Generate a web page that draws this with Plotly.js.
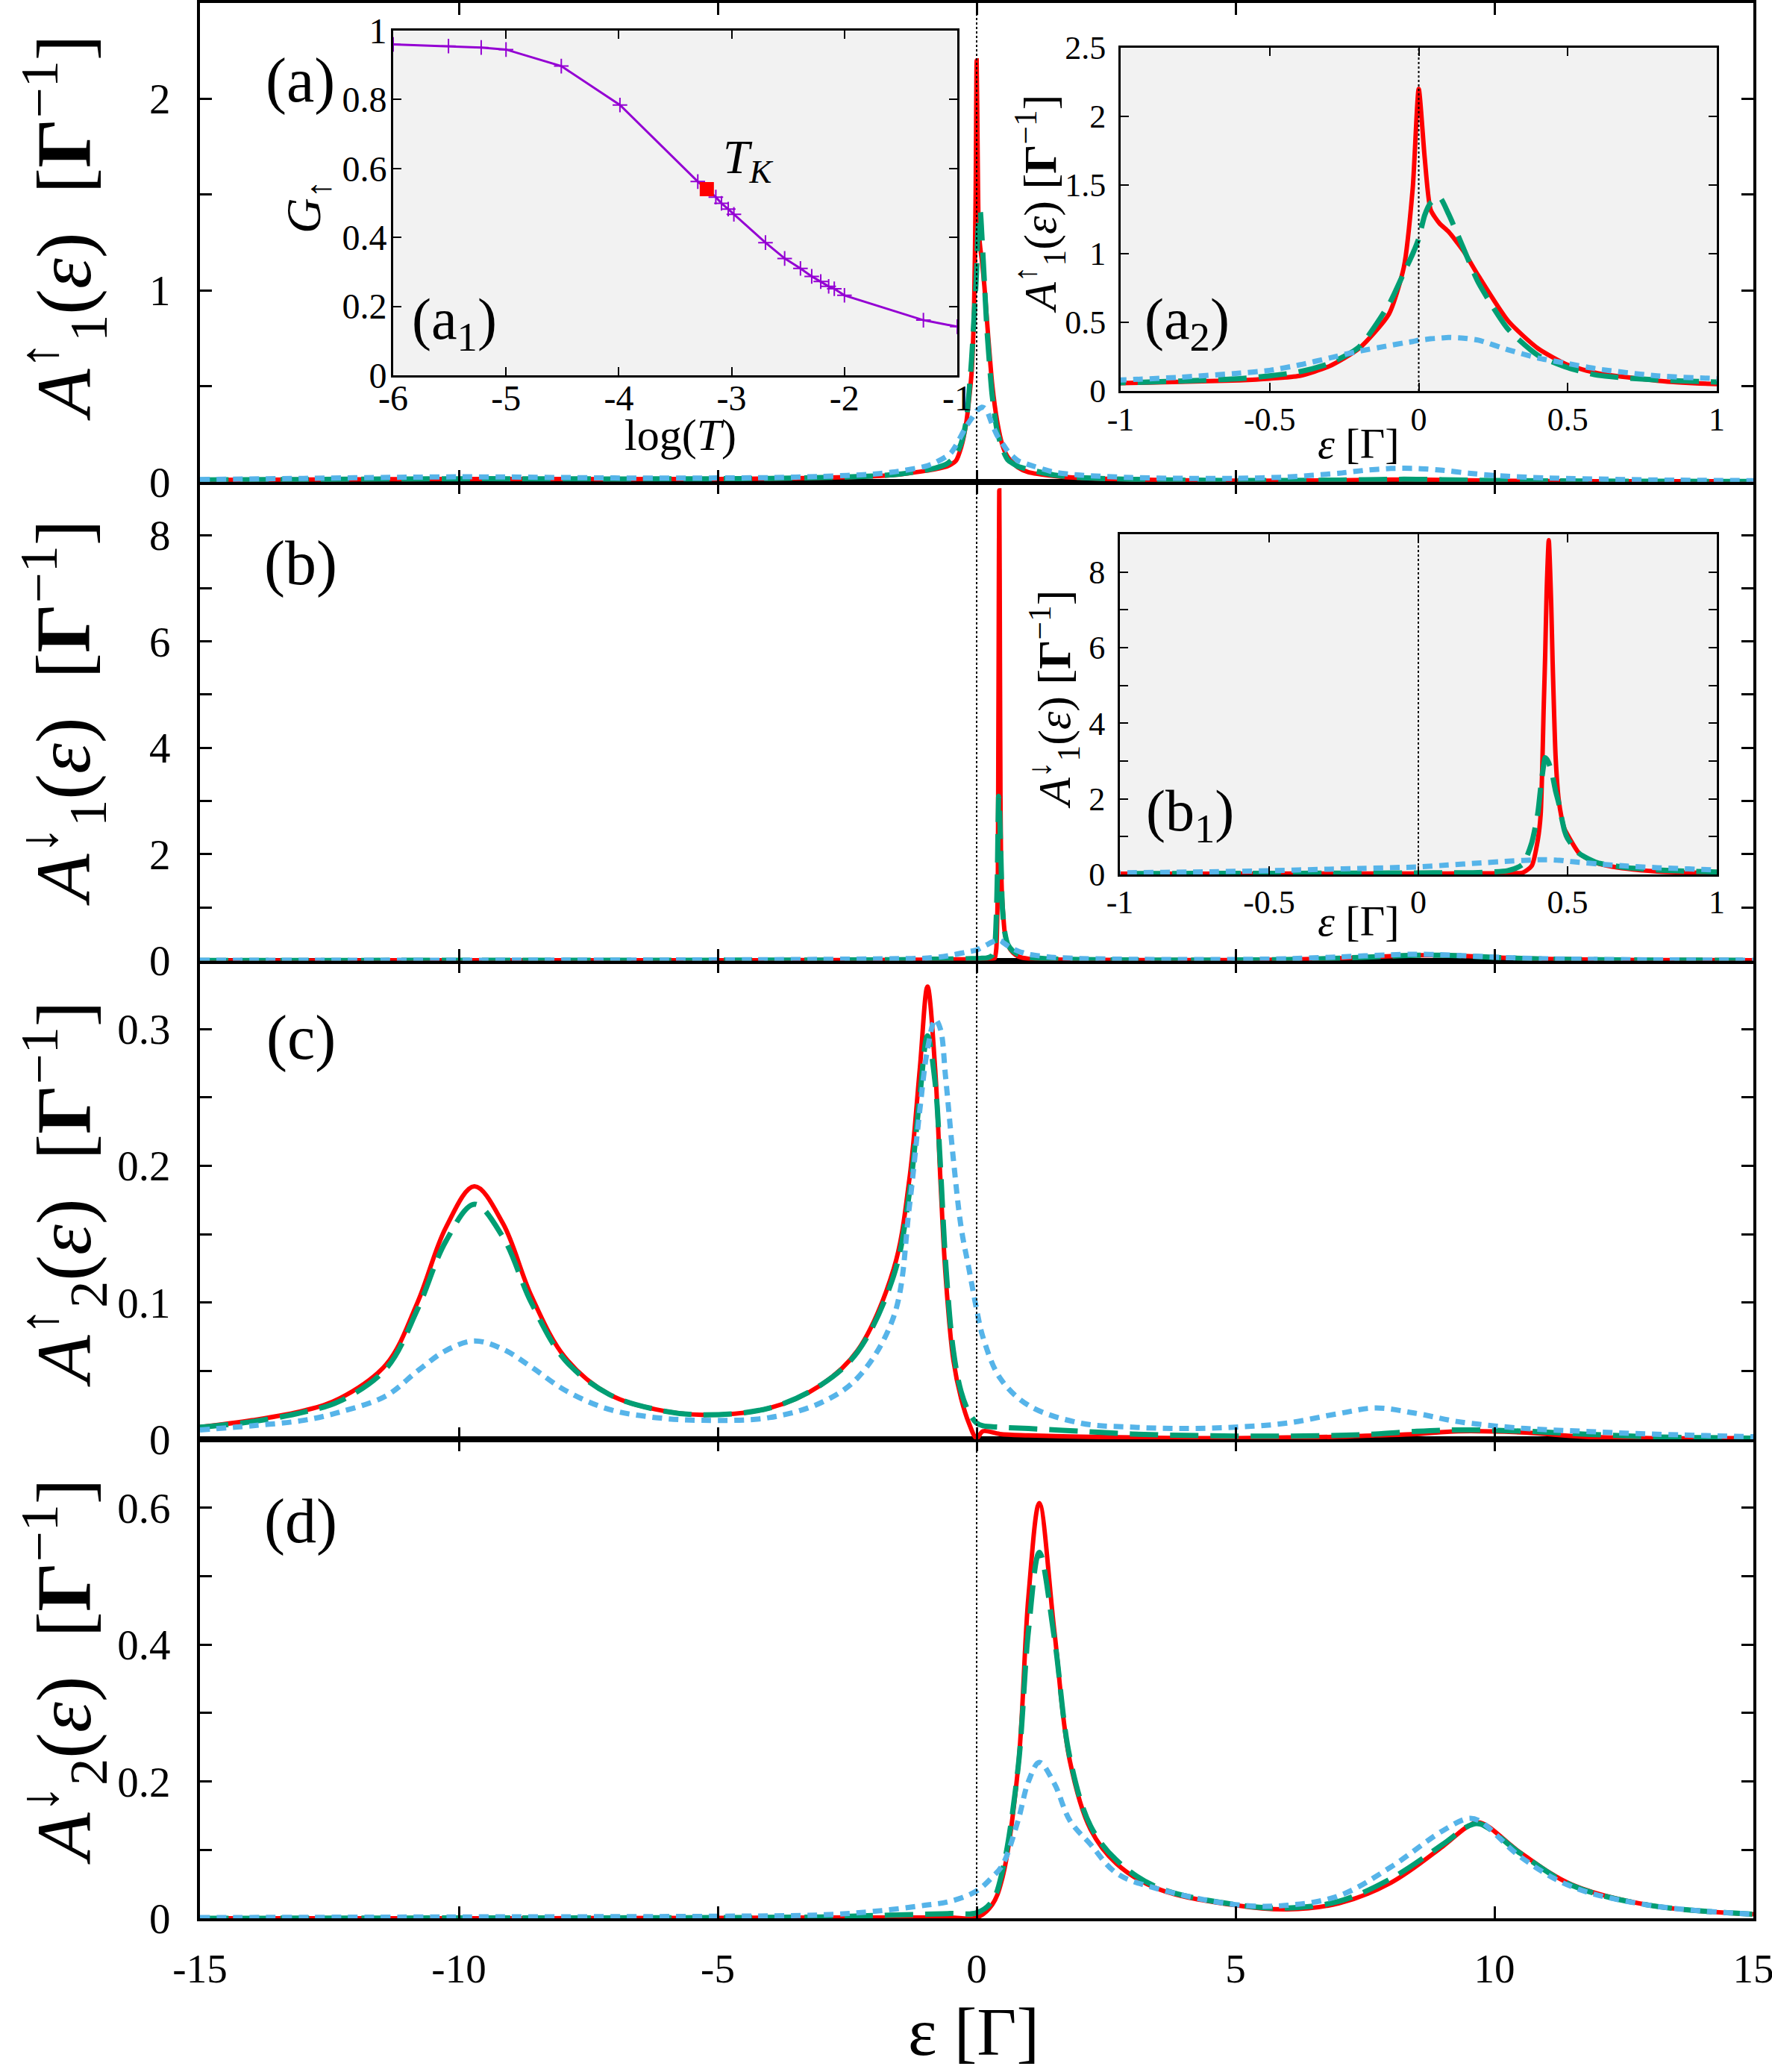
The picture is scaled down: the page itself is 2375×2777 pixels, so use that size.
<!DOCTYPE html>
<html><head><meta charset="utf-8">
<script src="https://cdn.plot.ly/plotly-3.0.1.min.js"></script>
<style>body{margin:0;background:#fff}</style>
</head><body><div id="chart" style="width:2375px;height:2777px"></div>
<script>
// ---------- data ----------
// panel (a): A1 up
const xa = [-15,-13,-11,-10,-9,-7,-5,-4,-3,-2,-1.5,-1,-0.8,-0.6,-0.5,-0.4,-0.3,-0.2,-0.1,-0.05,-0.02,0,0.02,0.04,0.07,0.1,0.15,0.2,0.3,0.4,0.5,0.6,0.8,1,1.5,2,3,4,5,6,7,7.5,8,8.5,9,9.5,10,11,13,15];
const a_red = [0.010,0.012,0.014,0.015,0.015,0.014,0.015,0.017,0.021,0.029,0.038,0.057,0.066,0.078,0.09,0.11,0.18,0.31,0.56,0.9,1.48,2.2,1.7,1.32,1.22,1.16,1.02,0.84,0.51,0.31,0.19,0.13,0.075,0.05,0.03,0.02,0.012,0.008,0.006,0.006,0.008,0.01,0.012,0.012,0.01,0.008,0.006,0.004,0.003,0.002];
const a_green = [0.010,0.012,0.015,0.016,0.016,0.015,0.016,0.018,0.022,0.03,0.04,0.06,0.072,0.09,0.11,0.14,0.2,0.32,0.63,0.86,1.0,1.11,1.28,1.37,1.41,1.29,1.04,0.79,0.45,0.26,0.17,0.115,0.08,0.065,0.035,0.022,0.013,0.009,0.007,0.007,0.009,0.011,0.013,0.013,0.011,0.009,0.007,0.005,0.003,0.002];
const a_blue = [0.012,0.018,0.024,0.026,0.025,0.02,0.02,0.022,0.028,0.04,0.055,0.08,0.1,0.13,0.15,0.19,0.24,0.29,0.33,0.35,0.36,0.37,0.375,0.38,0.385,0.39,0.385,0.37,0.3,0.24,0.2,0.16,0.11,0.09,0.05,0.035,0.022,0.018,0.018,0.025,0.045,0.06,0.07,0.07,0.06,0.045,0.033,0.02,0.01,0.006];

// panel (b): A1 down
const xb = [-15,-12,-10,-8,-6,-4,-3,-2,-1.5,-1,-0.7,-0.5,-0.3,-0.2,0,0.1,0.2,0.3,0.35,0.38,0.4,0.41,0.42,0.425,0.43,0.437,0.445,0.45,0.46,0.47,0.48,0.49,0.5,0.54,0.6,0.7,0.8,1,1.5,2,3,4,5,6,7,8,8.5,9,9.5,10,11,13,15];
const b_red = [0.005,0.005,0.006,0.006,0.007,0.008,0.01,0.012,0.014,0.018,0.02,0.022,0.024,0.025,0.026,0.027,0.028,0.035,0.05,0.23,0.9,1.6,4.4,5.8,7.5,8.84,7.2,5.6,3.1,2.0,1.5,1.2,1.05,0.55,0.3,0.15,0.08,0.035,0.02,0.015,0.012,0.01,0.012,0.02,0.045,0.085,0.1,0.1,0.085,0.06,0.03,0.012,0.007];
const b_green = [0.005,0.005,0.006,0.007,0.008,0.01,0.012,0.015,0.018,0.025,0.028,0.03,0.034,0.036,0.04,0.045,0.05,0.1,0.27,0.84,1.6,2.3,2.9,3.09,3.05,2.95,2.75,2.6,2.2,1.9,1.5,1.15,0.95,0.55,0.31,0.18,0.12,0.065,0.03,0.02,0.013,0.011,0.013,0.02,0.045,0.085,0.1,0.1,0.085,0.06,0.03,0.012,0.007];
const b_blue = [0.006,0.007,0.008,0.01,0.012,0.018,0.024,0.032,0.038,0.045,0.07,0.1,0.14,0.16,0.2,0.25,0.3,0.35,0.37,0.38,0.39,0.39,0.39,0.39,0.39,0.39,0.39,0.385,0.38,0.375,0.37,0.36,0.35,0.32,0.28,0.22,0.18,0.12,0.06,0.04,0.025,0.02,0.022,0.035,0.07,0.11,0.12,0.11,0.09,0.065,0.035,0.015,0.008];

// panel (c): A2 up
const xc = [-15,-14,-13,-12.3,-11.4,-10.8,-10.25,-9.7,-9.15,-8.6,-7.95,-7.1,-6.2,-5.3,-4,-3,-2.3,-1.6,-1.3,-1.1,-0.95,-0.8,-0.7,-0.6,-0.45,-0.3,-0.15,0,0.12,0.45,1,2,3,4,5,6,7,7.7,8.5,9.3,10.6,11.7,13,15];
const c_red = [0.009,0.014,0.021,0.03,0.055,0.1,0.155,0.185,0.158,0.105,0.06,0.033,0.022,0.018,0.023,0.04,0.065,0.125,0.19,0.27,0.331,0.27,0.19,0.12,0.058,0.03,0.012,0.001,0.006,0.004,0.003,0.002,0.0015,0.001,0.001,0.0015,0.002,0.003,0.004,0.006,0.005,0.002,0.001,0.001];
const c_green = [0.009,0.013,0.02,0.028,0.052,0.095,0.145,0.172,0.148,0.1,0.058,0.033,0.022,0.018,0.023,0.04,0.064,0.12,0.18,0.25,0.295,0.26,0.2,0.13,0.065,0.035,0.02,0.012,0.01,0.009,0.008,0.006,0.004,0.003,0.0025,0.0025,0.003,0.004,0.006,0.007,0.006,0.004,0.002,0.001];
const c_blue = [0.007,0.01,0.014,0.02,0.032,0.05,0.065,0.072,0.066,0.053,0.036,0.022,0.016,0.014,0.016,0.027,0.045,0.09,0.17,0.24,0.285,0.307,0.3,0.265,0.205,0.155,0.125,0.095,0.075,0.045,0.025,0.012,0.009,0.008,0.009,0.012,0.019,0.023,0.019,0.013,0.008,0.006,0.004,0.002];

// panel (d): A2 down
const xd = [-15,-10,-5,-3,-2,-1,-0.5,0,0.3,0.5,0.8,1,1.21,1.5,1.8,2.2,2.7,3.5,5,6,7,8,9,9.5,9.72,10.5,11.5,13,15];
const d_red = [0,0,0.0005,0.001,0.001,0.001,0.001,0.001,0.02,0.06,0.22,0.47,0.607,0.42,0.23,0.13,0.08,0.043,0.019,0.013,0.022,0.052,0.105,0.135,0.14,0.096,0.049,0.019,0.006];
const d_green = [0,0.0005,0.001,0.002,0.004,0.006,0.007,0.008,0.025,0.07,0.22,0.42,0.535,0.41,0.235,0.135,0.085,0.045,0.02,0.015,0.025,0.058,0.108,0.135,0.138,0.095,0.048,0.019,0.006];
const d_blue = [0.001,0.002,0.003,0.005,0.01,0.019,0.025,0.04,0.06,0.078,0.143,0.2,0.228,0.197,0.143,0.108,0.066,0.043,0.02,0.019,0.033,0.075,0.128,0.146,0.142,0.09,0.046,0.019,0.006];

// inset (a1): conductance vs log(T)
const logT = [-6,-5.51,-5.22,-5.0,-4.51,-3.99,-3.30,-3.14,-3.09,-3.03,-2.98,-2.70,-2.53,-2.39,-2.29,-2.21,-2.14,-2.09,-2.0,-1.30,-1.0];
const Gup  = [0.960,0.955,0.951,0.945,0.897,0.784,0.562,0.517,0.499,0.482,0.467,0.385,0.339,0.310,0.287,0.272,0.258,0.251,0.232,0.160,0.141];
const TK_x = [-3.22];
const TK_y = [0.540];

// tick labels
const mainXTicks = [-15,-10,-5,0,5,10,15];
const mainXText = ['-15','-10','-5','0','5','10','15'];

// ---------- layout helpers ----------
const L = 268, T = 4, W = 2082, H = 2567;
const px = x => (x - L) / W;
const py = y => 1 - (y - T) / H;
const FONT = 'Liberation Serif';

const RED = {color:'#ff0000', width:6, dash:'solid'};
const GREEN = {color:'#009e73', width:7, dash:'38px,16px'};
const BLUE = {color:'#56b4e9', width:7, dash:'13px,9px'};

function tr(x, y, line, xa, ya, sm) {
  return {x:x, y:y, xaxis:xa, yaxis:ya, mode:'lines', type:'scatter',
          line:Object.assign({shape:'spline', smoothing:sm}, line), hoverinfo:'skip'};
}
const traces = [];
function addSet(x, r, g, b, xa, ya, sm) {
  traces.push(tr(x, r, RED, xa, ya, sm));
  traces.push(tr(x, g, GREEN, xa, ya, sm));
  traces.push(tr(x, b, BLUE, xa, ya, sm));
}
addSet(xd, d_red, d_green, d_blue, 'x', 'y', 1.0);
addSet(xc, c_red, c_green, c_blue, 'x2', 'y2', 1.0);
addSet(xb, b_red, b_green, b_blue, 'x3', 'y3', 0.6);
addSet(xa, a_red, a_green, a_blue, 'x4', 'y4', 0.6);
// insets
addSet(xa, a_red, a_green, a_blue, 'x6', 'y6', 0.6);
addSet(xb, b_red, b_green, b_blue, 'x7', 'y7', 0.6);
traces.push({x:logT, y:Gup, xaxis:'x5', yaxis:'y5', type:'scatter', mode:'lines+markers',
  line:{color:'#9400d3', width:3},
  marker:{symbol:'cross-thin-open', size:14, color:'#9400d3', line:{color:'#9400d3', width:2}}, hoverinfo:'skip'});
traces.push({x:TK_x, y:TK_y, xaxis:'x5', yaxis:'y5', type:'scatter', mode:'markers',
  marker:{symbol:'square', size:19, color:'#ff0000'}, hoverinfo:'skip'});

// ---------- axes ----------
function mainX(anchor, labels) {
  const ax = {anchor:anchor, domain:[0,1], range:[-15,15], tickmode:'array', tickvals:mainXTicks,
    ticktext:mainXText, showticklabels:labels, ticks:'inside', ticklen:16, tickwidth:3, tickcolor:'#000',
    showline:true, linewidth:4, linecolor:'#000', mirror:'ticks', showgrid:false, zeroline:false,
    tickfont:{family:FONT, size:55, color:'#000'}, ticklabelstandoff:16, ticklabeloverflow:'allow'};
  if (anchor !== 'y') ax.matches = 'x';
  return ax;
}
function mainY(anchor, dom, range, vals, text) {
  return {anchor:anchor, domain:dom, range:range, tickmode:'array', tickvals:vals, ticktext:text,
    ticks:'inside', ticklen:16, tickwidth:3, tickcolor:'#000',
    showline:true, linewidth:4, linecolor:'#000', mirror:'ticks', showgrid:false, zeroline:false,
    tickfont:{family:FONT, size:57, color:'#000'}, ticklabelstandoff:24, ticklabeloverflow:'allow'};
}
function insetAx(anchor, dom, range, vals, text, standoff, fsize) {
  return {anchor:anchor, domain:dom, range:range, tickmode:'array', tickvals:vals, ticktext:text,
    ticks:'inside', ticklen:11, tickwidth:2, tickcolor:'#000',
    showline:true, linewidth:3, linecolor:'#000', mirror:'ticks', showgrid:false, zeroline:false,
    tickfont:{family:FONT, size:fsize, color:'#000'}, ticklabelstandoff:standoff, ticklabeloverflow:'allow'};
}

const layout = {
  width:2375, height:2777, margin:{l:L, r:2375-L-W, t:T, b:2777-T-H},
  paper_bgcolor:'#fff', plot_bgcolor:'rgba(0,0,0,0)', showlegend:false,
  font:{family:FONT, color:'#000'},
  xaxis: mainX('y', true),
  xaxis2: mainX('y2', false),
  xaxis3: mainX('y3', false),
  xaxis4: mainX('y4', false),
  yaxis: mainY('x', [0,0.25], [0,0.7], [0,0.1,0.2,0.3,0.4,0.5,0.6,0.7], ['0','','0.2','','0.4','','0.6','']),
  yaxis2: mainY('x2', [0.25,0.5], [0,0.35], [0,0.05,0.1,0.15,0.2,0.25,0.3,0.35], ['0','','0.1','','0.2','','0.3','']),
  yaxis3: mainY('x3', [0.5,0.75], [0,9], [0,1,2,3,4,5,6,7,8,9], ['0','','2','','4','','6','','8','']),
  yaxis4: mainY('x4', [0.75,1], [0,2.5], [0,0.5,1,1.5,2,2.5], ['0','','1','','2','']),
  xaxis5: insetAx('y5', [px(527), px(1283)], [-6,-1], [-6,-5,-4,-3,-2,-1], ['-6','-5','-4','-3','-2','-1'], -14, 48),
  yaxis5: insetAx('x5', [py(503), py(41)], [0,1], [0,0.2,0.4,0.6,0.8,1], ['0','0.2','0.4','0.6','0.8','1'], -4, 48),
  xaxis6: insetAx('y6', [px(1502), px(2301)], [-1,1], [-1,-0.5,0,0.5,1], ['-1','-0.5','0','0.5','1'], -3, 44),
  yaxis6: insetAx('x6', [py(524), py(64)], [0,2.5], [0,0.5,1,1.5,2,2.5], ['0','0.5','1','1.5','2','2.5'], 8, 44),
  xaxis7: insetAx('y7', [px(1501), px(2301)], [-1,1], [-1,-0.5,0,0.5,1], ['-1','-0.5','0','0.5','1'], -4, 44),
  yaxis7: insetAx('x7', [py(1172), py(716)], [0,9], [0,1,2,3,4,5,6,7,8,9], ['0','','2','','4','','6','','8',''], 8, 44),
  shapes: [
    {type:'rect', xref:'x5 domain', yref:'y5 domain', x0:0, x1:1, y0:0, y1:1, fillcolor:'#f2f2f2', line:{width:0}, layer:'below'},
    {type:'rect', xref:'x6 domain', yref:'y6 domain', x0:0, x1:1, y0:0, y1:1, fillcolor:'#f2f2f2', line:{width:0}, layer:'below'},
    {type:'rect', xref:'x7 domain', yref:'y7 domain', x0:0, x1:1, y0:0, y1:1, fillcolor:'#f2f2f2', line:{width:0}, layer:'below'},
    {type:'line', xref:'x', yref:'paper', x0:0, x1:0, y0:0, y1:1, line:{color:'#000', width:2, dash:'dot'}},
    {type:'line', xref:'x6', yref:'y6 domain', x0:0, x1:0, y0:0, y1:1, line:{color:'#000', width:2, dash:'dot'}},
    {type:'line', xref:'x7', yref:'y7 domain', x0:0, x1:0, y0:0, y1:1, line:{color:'#000', width:2, dash:'dot'}}
  ],
  annotations: []
};

function ann(text, x, y, size, angle) {
  layout.annotations.push({text:text, xref:'paper', yref:'paper', x:px(x), y:py(y),
    xanchor:'center', yanchor:'middle', showarrow:false, textangle:angle||0,
    font:{family:FONT, size:size, color:'#000'}});
}
// main y titles
ann('<i>A</i><sup>↑</sup><sub>1</sub>(<i>ε</i>)  [<b>Γ</b><sup>−1</sup>]', 85, 305, 104, -90);
ann('<i>A</i><sup>↓</sup><sub>1</sub>(<i>ε</i>)  [<b>Γ</b><sup>−1</sup>]', 85, 955, 104, -90);
ann('<i>A</i><sup>↑</sup><sub>2</sub>(<i>ε</i>)  [<b>Γ</b><sup>−1</sup>]', 85, 1600, 104, -90);
ann('<i>A</i><sup>↓</sup><sub>2</sub>(<i>ε</i>)  [<b>Γ</b><sup>−1</sup>]', 85, 2240, 104, -90);
// main x title
ann('ε [Γ]', 1305, 2723, 92, 0);
// panel labels
ann('(a)', 402, 108, 84, 0);
ann('(b)', 403, 755, 84, 0);
ann('(c)', 403, 1391, 84, 0);
ann('(d)', 403, 2039, 84, 0);
// inset a1
ann('(a<sub>1</sub>)', 609, 433, 78, 0);
ann('<i>T</i><sub><i>K</i></sub>', 1003, 215, 64, 0);
ann('log(<i>T</i>)', 912, 583, 60, 0);
ann('<i>G</i><sub>↑</sub>', 412, 278, 66, -90);
// inset a2
ann('(a<sub>2</sub>)', 1591, 433, 78, 0);
ann('<i>A</i><sup>↑</sup><sub>1</sub>(<i>ε</i>) [<b>Γ</b><sup>−1</sup>]', 1393, 274, 62, -90);
ann('<i>ε</i> [Γ]', 1821, 594, 58, 0);
// inset b1
ann('(b<sub>1</sub>)', 1595, 1092, 78, 0);
ann('<i>A</i><sup>↓</sup><sub>1</sub>(<i>ε</i>) [<b>Γ</b><sup>−1</sup>]', 1413, 938, 62, -90);
ann('<i>ε</i> [Γ]', 1821, 1234, 58, 0);

Plotly.newPlot('chart', traces, layout, {staticPlot:true, displayModeBar:false});
</script></body></html>
